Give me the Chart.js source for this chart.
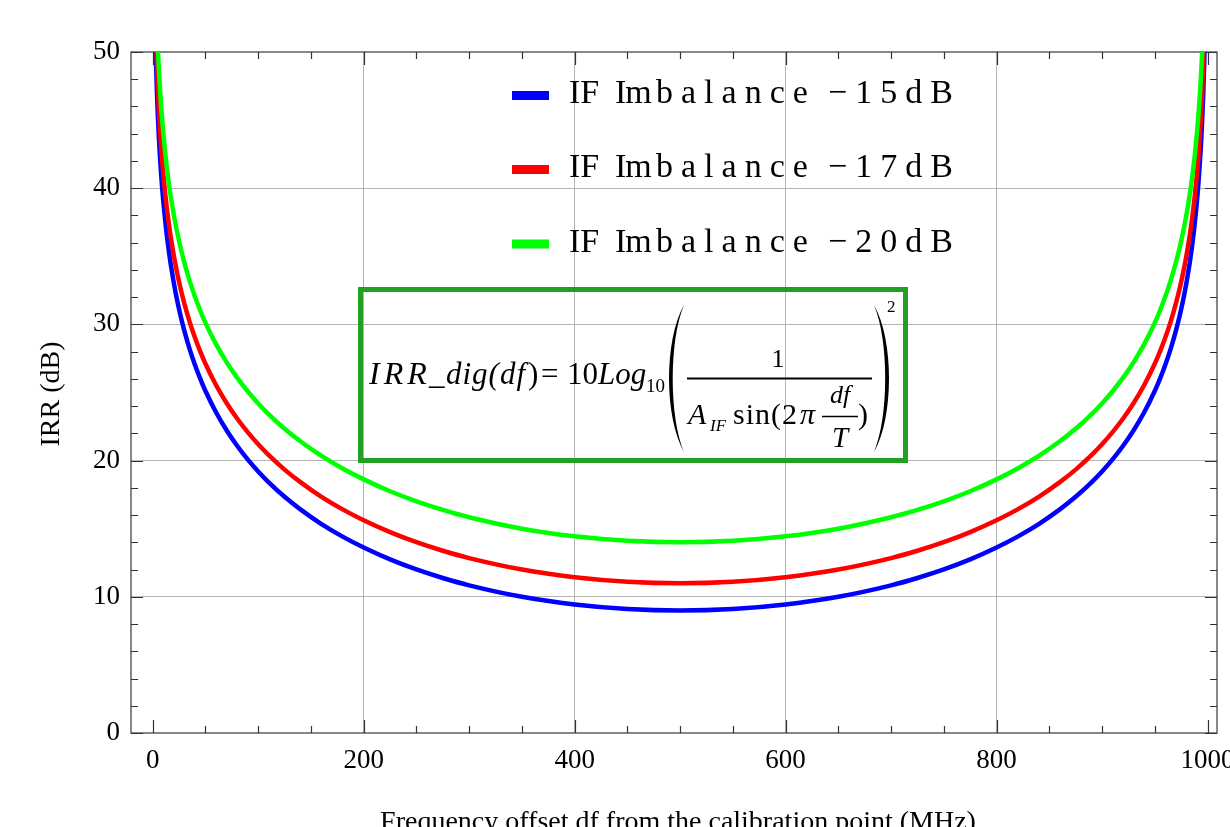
<!DOCTYPE html>
<html>
<head>
<meta charset="utf-8">
<script src="https://cdn.jsdelivr.net/npm/chart.js@4.4.1/dist/chart.umd.min.js"></script>
<style>
  html, body { margin: 0; padding: 0; background: #fff; }
  #wrap { position: relative; width: 1230px; height: 827px; overflow: hidden; }
</style>
</head>
<body>
<div id="wrap"><canvas id="irrChart" width="1230" height="827"></canvas></div>
<script>
const offsets = [2, 3, 4, 5, 6, 7, 8, 9, 10, 12, 14, 16, 18, 20, 23, 26, 30, 35, 40, 45, 50,
                 60, 70, 80, 90, 100, 110, 125, 140, 160, 180, 200, 225, 250, 275, 300, 350, 400, 450, 500,
                 550, 600, 650, 700, 725, 750, 775, 800, 820, 840, 860, 875, 890, 900, 910, 920, 930, 940,
                 950, 955, 960, 965, 970, 974, 977, 980, 982, 984, 986, 988, 990, 991, 992, 993, 994, 995, 996, 997, 998];

// IRR (dB) for each IF imbalance
const irr15 = [53.04, 49.51, 47.02, 45.08, 43.49, 42.16, 41.00, 39.97, 39.06, 37.48, 36.14, 34.98, 33.96, 33.04, 31.83, 30.77, 29.53, 28.19, 27.04, 26.02, 25.11,
               23.55, 22.23, 21.09, 20.09, 19.20, 18.40, 17.34, 16.42, 15.34, 14.42, 13.62, 12.75, 12.01, 11.38, 10.84, 10.00, 9.44, 9.11, 9.00,
               9.11, 9.44, 10.00, 10.84, 11.38, 12.01, 12.75, 13.62, 14.42, 15.34, 16.42, 17.34, 18.40, 19.20, 20.09, 21.09, 22.23, 23.55,
               25.11, 26.02, 27.04, 28.19, 29.53, 30.77, 31.83, 33.04, 33.96, 34.98, 36.14, 37.48, 39.06, 39.97, 41.00, 42.16, 43.49, 45.08, 47.02, 49.51, 53.04];
const irr17 = [55.04, 51.51, 49.02, 47.08, 45.49, 44.16, 43.00, 41.97, 41.06, 39.48, 38.14, 36.98, 35.96, 35.04, 33.83, 32.77, 31.53, 30.19, 29.04, 28.02, 27.11,
               25.55, 24.23, 23.09, 22.09, 21.20, 20.40, 19.34, 18.42, 17.34, 16.42, 15.62, 14.75, 14.01, 13.38, 12.84, 12.00, 11.44, 11.11, 11.00,
               11.11, 11.44, 12.00, 12.84, 13.38, 14.01, 14.75, 15.62, 16.42, 17.34, 18.42, 19.34, 20.40, 21.20, 22.09, 23.09, 24.23, 25.55,
               27.11, 28.02, 29.04, 30.19, 31.53, 32.77, 33.83, 35.04, 35.96, 36.98, 38.14, 39.48, 41.06, 41.97, 43.00, 44.16, 45.49, 47.08, 49.02, 51.51, 55.04];
const irr20 = [58.04, 54.51, 52.02, 50.08, 48.49, 47.16, 46.00, 44.97, 44.06, 42.48, 41.14, 39.98, 38.96, 38.04, 36.83, 35.77, 34.53, 33.19, 32.04, 31.02, 30.11,
               28.55, 27.23, 26.09, 25.09, 24.20, 23.40, 22.34, 21.42, 20.34, 19.42, 18.62, 17.75, 17.01, 16.38, 15.84, 15.00, 14.44, 14.11, 14.00,
               14.11, 14.44, 15.00, 15.84, 16.38, 17.01, 17.75, 18.62, 19.42, 20.34, 21.42, 22.34, 23.40, 24.20, 25.09, 26.09, 27.23, 28.55,
               30.11, 31.02, 32.04, 33.19, 34.53, 35.77, 36.83, 38.04, 38.96, 39.98, 41.14, 42.48, 44.06, 44.97, 46.00, 47.16, 48.49, 50.08, 52.02, 54.51, 58.04];

const seriesNames = ["IF Imbalance −15dB", "IF Imbalance −17dB", "IF Imbalance −20dB"];
const seriesColors = ["#0000ff", "#ff0000", "#00ff00"];

const xTickLabels = [0, 200, 400, 600, 800, 1000];
const yTickLabels = [0, 10, 20, 30, 40, 50];
const xTitle = "Frequency offset df from the calibration point (MHz)";
const yTitle = "IRR (dB)";

const serif = '"Liberation Serif", "Times New Roman", serif';

// minor tick positions (every 50 on x, every 2 on y)
const xTicks = [];
for (let v = 0; v <= 1000; v += 50) xTicks.push(v);
const yTicks = [];
for (let v = 0; v <= 50; v += 2) yTicks.push(v);

function pts(vals) {
    return offsets.map((x, i) => ({ x: x, y: vals[i] }));
}

// Mathematica style frame with inward ticks on all four sides
const frameTicks = {
    id: "frameTicks",
    beforeDatasetsDraw(chart) {
        const { ctx, chartArea: a, scales: { x, y } } = chart;
        ctx.save();
        ctx.strokeStyle = "#555";
        ctx.lineWidth = 1.4;
        ctx.strokeRect(a.left, a.top, a.right - a.left, a.bottom - a.top);
        ctx.lineWidth = 1.2;
        ctx.strokeStyle = "#333";
        ctx.beginPath();
        x.ticks.forEach(t => {
            const px = Math.round(x.getPixelForValue(t.value)) + 0.5;
            const len = xTickLabels.includes(t.value) ? 13 : 7;
            ctx.moveTo(px, a.bottom); ctx.lineTo(px, a.bottom - len);
            ctx.moveTo(px, a.top); ctx.lineTo(px, a.top + len);
        });
        y.ticks.forEach(t => {
            const py = Math.round(y.getPixelForValue(t.value)) + 0.5;
            const len = yTickLabels.includes(t.value) ? 12 : 7;
            ctx.moveTo(a.left, py); ctx.lineTo(a.left + len, py);
            ctx.moveTo(a.right, py); ctx.lineTo(a.right - len, py);
        });
        ctx.stroke();
        ctx.restore();
    }
};

function put(ctx, s, x, y, size, italic, align) {
    ctx.font = (italic ? "italic " : "") + size + "px " + serif;
    ctx.textAlign = align || "left";
    ctx.fillText(s, x, y);
}

// legend, formula box and axis titles
const annotations = {
    id: "annotations",
    afterDatasetsDraw(chart) {
        const ctx = chart.ctx;
        ctx.save();
        ctx.fillStyle = "#000";
        ctx.textBaseline = "alphabetic";

        // legend
        const rows = [95.5, 169.5, 244];
        seriesNames.forEach((name, i) => {
            ctx.strokeStyle = seriesColors[i];
            ctx.lineWidth = 9;
            ctx.beginPath();
            ctx.moveTo(512, rows[i]);
            ctx.lineTo(549, rows[i]);
            ctx.stroke();
            const words = name.split(" ");
            const base = rows[i] + 7.5;
            put(ctx, words[0], 569, base, 34, false);
            ctx.letterSpacing = "-1px";
            put(ctx, words[1].slice(0, 2), 615, base, 34, false);
            ctx.letterSpacing = "8px";
            put(ctx, words[1].slice(2), 656, base, 34, false);
            put(ctx, words[2], 828, base, 34, false);
            ctx.letterSpacing = "0px";
        });

        // formula box
        ctx.strokeStyle = "#22a022";
        ctx.lineWidth = 5;
        ctx.strokeRect(360.5, 289.5, 545, 171);

        const b = 384;
        ctx.letterSpacing = "4px";
        put(ctx, "IRR", 369, b, 32, true);
        ctx.letterSpacing = "0px";
        put(ctx, "_", 429, b, 31, true);
        ctx.letterSpacing = "1px";
        put(ctx, "dig(df", 446, b, 31, true);
        ctx.letterSpacing = "0px";
        put(ctx, ")", 528, b, 31, false);
        put(ctx, "=", 541, b, 31, false);
        put(ctx, "10", 567, b, 31, false);
        put(ctx, "Log", 598, b, 31, true);
        put(ctx, "10", 646, 392, 19, false);

        ctx.fillStyle = "#000";
        ctx.beginPath();
        ctx.moveTo(684, 305);
        ctx.bezierCurveTo(664, 340, 664, 417, 684, 452);
        ctx.bezierCurveTo(669, 417, 669, 340, 684, 305);
        ctx.fill();
        ctx.beginPath();
        ctx.moveTo(874, 305);
        ctx.bezierCurveTo(894, 340, 894, 417, 874, 452);
        ctx.bezierCurveTo(889, 417, 889, 340, 874, 305);
        ctx.fill();

        ctx.strokeStyle = "#000";
        ctx.lineWidth = 1.8;
        ctx.beginPath();
        ctx.moveTo(687, 378.5); ctx.lineTo(872, 378.5);
        ctx.stroke();
        ctx.lineWidth = 1.3;
        ctx.beginPath();
        ctx.moveTo(822, 416.5); ctx.lineTo(858, 416.5);
        ctx.stroke();

        put(ctx, "1", 778, 367, 26, false, "center");
        put(ctx, "A", 688, 424, 30, true);
        put(ctx, "IF", 710, 431, 17, true);
        ctx.letterSpacing = "1px";
        put(ctx, "sin(2", 733, 424, 30, false);
        ctx.letterSpacing = "0px";
        put(ctx, "π", 800, 424, 30, true);
        put(ctx, "df", 840, 403, 26, true, "center");
        put(ctx, "T", 840, 447, 29, true, "center");
        put(ctx, ")", 858, 424, 30, false);
        put(ctx, "2", 887, 312, 17, false);

        // axis titles
        put(ctx, xTitle, 678, 830, 28, false, "center");
        ctx.translate(59, 394);
        ctx.rotate(-Math.PI / 2);
        put(ctx, yTitle, 0, 0, 28, false, "center");
        ctx.restore();
    }
};

const ctx = document.getElementById("irrChart").getContext("2d");
new Chart(ctx, {
    type: "line",
    data: {
        datasets: [
            { label: seriesNames[0], data: pts(irr15), borderColor: seriesColors[0], order: 3 },
            { label: seriesNames[1], data: pts(irr17), borderColor: seriesColors[1], order: 2 },
            { label: seriesNames[2], data: pts(irr20), borderColor: seriesColors[2], order: 1 }
        ]
    },
    options: {
        responsive: false,
        animation: false,
        devicePixelRatio: 1,
        layout: { padding: { top: 52, right: 13, left: 0, bottom: 0 }, autoPadding: false },
        plugins: { legend: { display: false }, tooltip: { enabled: false } },
        elements: {
            point: { radius: 0 },
            line: { borderWidth: 4.5, cubicInterpolationMode: "monotone", fill: false }
        },
        scales: {
            x: {
                type: "linear",
                min: -20.6,
                max: 1009,
                afterBuildTicks: s => { s.ticks = xTicks.map(v => ({ value: v })); },
                afterFit: s => { s.height = 94; s.paddingLeft = 0; s.paddingRight = 0; },
                border: { display: false },
                grid: {
                    drawTicks: false,
                    color: c => (c.tick && [200, 400, 600, 800].includes(c.tick.value)) ? "#b4b4b4" : "rgba(0,0,0,0)",
                    lineWidth: 1
                },
                ticks: {
                    autoSkip: false,
                    maxRotation: 0,
                    padding: 12,
                    color: "#000",
                    font: { family: serif, size: 27 },
                    callback: v => xTickLabels.includes(v) ? String(v) : ""
                }
            },
            y: {
                min: 0,
                max: 50,
                afterBuildTicks: s => { s.ticks = yTicks.map(v => ({ value: v })); },
                afterFit: s => { s.width = 131; s.paddingTop = 0; s.paddingBottom = 0; },
                border: { display: false },
                grid: {
                    drawTicks: false,
                    color: c => (c.tick && [10, 20, 30, 40].includes(c.tick.value)) ? "#b4b4b4" : "rgba(0,0,0,0)",
                    lineWidth: 1
                },
                ticks: {
                    autoSkip: false,
                    padding: 11,
                    color: "#000",
                    font: { family: serif, size: 27 },
                    callback: v => yTickLabels.includes(v) ? String(v) : ""
                }
            }
        }
    },
    plugins: [frameTicks, annotations]
});
</script>
</body>
</html>
